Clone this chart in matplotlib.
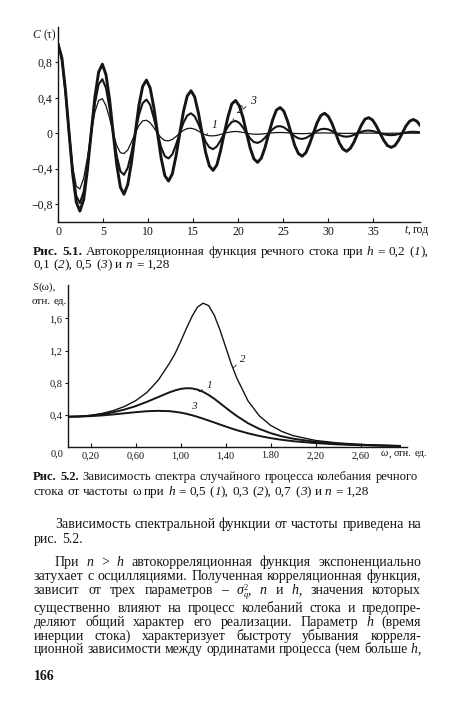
import re
import matplotlib
matplotlib.use("Agg")
import matplotlib.pyplot as plt

plt.rcParams["font.family"] = ["Liberation Serif", "DejaVu Serif"]

W, H = 450, 708
ink = "#151515"

# ---------------- Рис. 5.1 : автокорреляционная функция ----------------
t_top = [0, 0.4, 0.8, 1.2, 1.6, 2.0,
         2.4, 2.82, 3.23, 3.65, 4.07, 4.48,
         4.9, 5.3, 5.7, 6.1, 6.5, 6.9,
         7.3, 7.72, 8.13, 8.55, 8.97, 9.38,
         9.8, 10.21, 10.62, 11.03, 11.43, 11.84,
         12.25, 12.67, 13.08, 13.5, 13.92, 14.33,
         14.75, 15.16, 15.57, 15.98, 16.38, 16.79,
         17.2, 17.62, 18.03, 18.45, 18.87, 19.28,
         19.7, 20.11, 20.52, 20.93, 21.33, 21.74,
         22.15, 22.57, 22.98, 23.4, 23.82, 24.23,
         24.65, 25.06, 25.47, 25.88, 26.28, 26.69,
         27.1, 27.52, 27.93, 28.35, 28.77, 29.18,
         29.6, 30.01, 30.42, 30.83, 31.23, 31.64,
         32.05, 32.46, 32.87, 33.28, 33.68, 34.09,
         34.5, 34.92, 35.33, 35.75, 36.17, 36.58,
         37.0, 37.41, 37.82, 38.23, 38.63, 39.04,
         39.45, 39.85, 40.2]
c1 = [1.00, 0.81, 0.44, 0.0, -0.38, -0.60,
      -0.63, -0.51, -0.28, 0.0, 0.24, 0.37,
      0.39, 0.31, 0.17, 0.0, -0.14, -0.22,
      -0.23, -0.19, -0.10, 0.0, 0.087, 0.14,
      0.146, 0.118, 0.063, 0.0, -0.053, -0.083,
      -0.086, -0.07, -0.038, 0.0, 0.033, 0.053,
      0.056, 0.045, 0.024, 0.0, -0.02, -0.029,
      -0.03, -0.025, -0.014, 0.0, 0.009, 0.016,
      0.02, 0.016, 0.009, 0.0, -0.007, -0.011,
      -0.012, -0.01, -0.005, 0.0, 0.004, 0.007,
      0.008, 0.007, 0.004, 0.0, -0.003, -0.004,
      -0.005, -0.004, -0.002, 0.0, 0.002, 0.003,
      0.003, 0.002, 0.001, 0.0, -0.001, -0.002,
      -0.002, -0.002, -0.001, 0.0, 0.001, 0.001,
      0.001, 0.001, 0.0, 0.0, 0.0, -0.001,
      -0.001, 0.0, 0.0, 0.0, 0.0, 0.0,
      0.0, 0.0, 0.0]
c2 = [1.00, 0.84, 0.47, 0.0, -0.43, -0.71,
      -0.79, -0.66, -0.37, 0.0, 0.34, 0.55,
      0.61, 0.51, 0.28, 0.0, -0.26, -0.43,
      -0.47, -0.39, -0.22, 0.0, 0.21, 0.34,
      0.38, 0.32, 0.17, 0.0, -0.16, -0.26,
      -0.285, -0.24, -0.13, 0.0, 0.12, 0.20,
      0.225, 0.19, 0.105, 0.0, -0.10, -0.16,
      -0.18, -0.15, -0.083, 0.0, 0.077, 0.127,
      0.14, 0.117, 0.065, 0.0, -0.06, -0.10,
      -0.11, -0.09, -0.05, 0.0, 0.045, 0.074,
      0.08, 0.067, 0.037, 0.0, -0.035, -0.058,
      -0.065, -0.054, -0.03, 0.0, 0.027, 0.045,
      0.05, 0.043, 0.024, 0.0, -0.021, -0.035,
      -0.04, -0.034, -0.019, 0.0, 0.016, 0.027,
      0.03, 0.025, 0.014, 0.0, -0.012, -0.02,
      -0.022, -0.019, -0.01, 0.0, 0.008, 0.014,
      0.016, 0.014, 0.01]
c3 = [1.00, 0.85, 0.48, 0.0, -0.46, -0.78,
      -0.88, -0.75, -0.42, 0.0, 0.41, 0.69,
      0.78, 0.66, 0.38, 0.0, -0.36, -0.61,
      -0.69, -0.58, -0.33, 0.0, 0.32, 0.53,
      0.60, 0.51, 0.29, 0.0, -0.28, -0.48,
      -0.54, -0.46, -0.26, 0.0, 0.25, 0.42,
      0.48, 0.41, 0.23, 0.0, -0.22, -0.37,
      -0.42, -0.36, -0.20, 0.0, 0.19, 0.33,
      0.37, 0.31, 0.18, 0.0, -0.17, -0.29,
      -0.33, -0.28, -0.16, 0.0, 0.15, 0.26,
      0.29, 0.25, 0.14, 0.0, -0.14, -0.23,
      -0.26, -0.22, -0.12, 0.0, 0.12, 0.20,
      0.225, 0.19, 0.11, 0.0, -0.11, -0.18,
      -0.205, -0.17, -0.10, 0.0, 0.09, 0.16,
      0.175, 0.15, 0.085, 0.0, -0.08, -0.14,
      -0.16, -0.14, -0.08, 0.0, 0.08, 0.135,
      0.155, 0.135, 0.09]
top_xticks = [0, 5, 10, 15, 20, 25, 30, 35]
top_yticks = [-0.8, -0.4, 0, 0.4, 0.8]
top_ylabels = ["−0,8", "−0,4", "0", "0,4", "0,8"]

# ---------------- Рис. 5.2 : спектральная функция ----------------
w = [0, 0.1, 0.2, 0.3, 0.4, 0.5, 0.6, 0.7, 0.8, 0.9,
     0.95, 1.0, 1.05, 1.1, 1.15, 1.2, 1.25, 1.3, 1.35, 1.4, 1.45, 1.5,
     1.6, 1.7, 1.8, 1.9, 2.0, 2.2, 2.4, 2.6, 2.8, 2.95]
s1 = [0.38, 0.383, 0.393, 0.41, 0.435, 0.468, 0.511, 0.564, 0.623, 0.682,
      0.706, 0.725, 0.734, 0.732, 0.717, 0.689, 0.650, 0.603, 0.549, 0.494, 0.440, 0.389,
      0.299, 0.229, 0.176, 0.136, 0.107, 0.068, 0.045, 0.031, 0.022, 0.017]
s2 = [0.38, 0.384, 0.397, 0.42, 0.455, 0.506, 0.578, 0.68, 0.83, 1.04,
      1.16, 1.31, 1.47, 1.62, 1.74, 1.79, 1.76, 1.64, 1.46, 1.25, 1.04, 0.86,
      0.576, 0.391, 0.273, 0.197, 0.145, 0.085, 0.054, 0.036, 0.025, 0.02]
s3 = [0.38, 0.382, 0.387, 0.396, 0.408, 0.422, 0.436, 0.448, 0.453, 0.449,
      0.441, 0.431, 0.417, 0.399, 0.379, 0.356, 0.332, 0.308, 0.283, 0.259, 0.235, 0.213,
      0.174, 0.141, 0.114, 0.093, 0.076, 0.052, 0.036, 0.026, 0.019, 0.015]
bot_xticks = [0.2, 0.6, 1.0, 1.4, 1.8, 2.2, 2.6]
bot_xlabels = ["0,20", "0,60", "1,00", "1,40", "1.80", "2,20", "2,60"]
bot_yticks = [0.4, 0.8, 1.2, 1.6]
bot_ylabels = ["0,4", "0,8", "1,2", "1,6"]

fig = plt.figure(figsize=(W / 100, H / 100), dpi=100)
fig.patch.set_facecolor("white")


def px_axes(x0, y0, x1, y1):
    return fig.add_axes([x0 / W, 1 - y1 / H, (x1 - x0) / W, (y1 - y0) / H])


def style_axes(ax, size):
    for s in ("top", "right"):
        ax.spines[s].set_visible(False)
    for s in ("left", "bottom"):
        ax.spines[s].set_linewidth(1.0)
        ax.spines[s].set_color(ink)
    ax.tick_params(axis="x", direction="in", length=3, width=0.8, pad=3,
                   labelsize=size, colors=ink)
    ax.tick_params(axis="y", direction="out", length=2, width=0.8, pad=2,
                   labelsize=size, colors=ink)


# top chart
ax1 = px_axes(58.3, 27, 420, 221.7)
ax1.plot(t_top, c1, color=ink, lw=0.9)
ax1.plot(t_top, c2, color=ink, lw=1.5)
ax1.plot(t_top, c3, color=ink, lw=2.1)
ax1.set_xlim(0, 40.2)
ax1.set_ylim(-1.0, 1.2)
ax1.set_xticks(top_xticks)
ax1.set_xticklabels([str(v) for v in top_xticks])
ax1.set_yticks(top_yticks)
ax1.set_yticklabels(top_ylabels)
style_axes(ax1, 8.5)
lead = dict(arrowstyle="-", lw=0.6, color=ink, shrinkA=1, shrinkB=0)
ax1.annotate("3", xy=(20.5, 0.27), xytext=(21.3, 0.36), fontsize=8.5, style="italic",
             va="center", ha="left", color=ink, arrowprops=lead)
ax1.annotate("2", xy=(19.4, 0.15), xytext=(19.9, 0.26), fontsize=8.5, style="italic",
             va="center", ha="left", color=ink, arrowprops=lead)
ax1.annotate("1", xy=(16.5, -0.015), xytext=(17.0, 0.09), fontsize=8.5, style="italic",
             va="center", ha="left", color=ink, arrowprops=lead)

# bottom chart
ax2 = px_axes(68, 285, 406.7, 447.3)
ax2.plot(w, s1, color=ink, lw=1.4)
ax2.plot(w, s2, color=ink, lw=1.0)
ax2.plot(w, s3, color=ink, lw=1.4)
ax2.set_xlim(0, 3.01)
ax2.set_ylim(0, 2.016)
ax2.set_xticks(bot_xticks)
ax2.set_xticklabels(bot_xlabels)
ax2.set_yticks(bot_yticks)
ax2.set_yticklabels(bot_ylabels)
style_axes(ax2, 7.5)
ax2.annotate("2", xy=(1.47, 0.99), xytext=(1.53, 1.09), fontsize=8, style="italic",
             va="center", ha="left", color=ink, arrowprops=lead)
ax2.annotate("1", xy=(1.165, 0.69), xytext=(1.23, 0.77), fontsize=8, style="italic",
             va="center", ha="left", color=ink, arrowprops=lead)
ax2.annotate("3", xy=(1.055, 0.42), xytext=(1.09, 0.51), fontsize=8, style="italic",
             va="center", ha="left", color=ink, arrowprops=lead)

# ---------------- text of the page ----------------
renderer = fig.canvas.get_renderer()


def runs(word):
    out = []
    for p in re.split(r"(_[^_]+_|\*[^*]+\*|\{sq\})", word):
        if not p:
            continue
        if p == "{sq}":
            out.append(("σ", "sq", "normal"))
        elif p[0] == "_" and p[-1] == "_":
            out.append((p[1:-1], "italic", "normal"))
        elif p[0] == "*" and p[-1] == "*":
            out.append((p[1:-1], "normal", "bold"))
        else:
            out.append((p, "normal", "normal"))
    return out


def build(line, base, size):
    words = []
    for wd in line.split():
        arts = []
        for s, st, wt in runs(wd):
            if st == "sq":
                # sigma with superscript 2 and subscript q
                t = fig.text(0, base, s, fontsize=size, style="italic",
                             va="baseline", color=ink)
                tw = t.get_window_extent(renderer).width
                up = fig.text(0, base + 4.5 / H, "2", fontsize=size * 0.6,
                              va="baseline", color=ink)
                dn = fig.text(0, base - 2.5 / H, "q", fontsize=size * 0.6,
                              style="italic", va="baseline", color=ink)
                sw = max(up.get_window_extent(renderer).width,
                         dn.get_window_extent(renderer).width)
                arts.append((t, tw, [up, dn]))
                arts.append((None, sw, None))
            else:
                t = fig.text(0, base, s, fontsize=size, style=st, weight=wt,
                             va="baseline", ha="left", color=ink)
                arts.append((t, t.get_window_extent(renderer).width, None))
        words.append(arts)
    return words


def put(line, x0, yc, size, x1=None, ha="left"):
    base = 1 - (yc + size * 0.33) / H
    while True:
        words = build(line, base, size)
        widths = [sum(a[1] for a in arts) for arts in words]
        if x1 is not None and len(words) > 1:
            gap = (x1 - x0 - sum(widths)) / (len(words) - 1)
            if gap < size * 1.39 * 0.2:
                for arts in words:
                    for t, tw, extra in arts:
                        if t is not None:
                            t.remove()
                        for e in extra or []:
                            e.remove()
                size -= 0.2
                continue
        else:
            gap = size * 1.39 * 0.27
        break
    total = sum(widths) + gap * (len(words) - 1)
    x = x0 - total if ha == "right" else x0
    for arts, wd in zip(words, widths):
        xx = x
        pend = None
        for t, tw, extra in arts:
            if t is not None:
                t.set_x(xx / W)
            if pend:
                for e in pend:
                    e.set_x(xx / W)
            pend = extra
            xx += tw
        x += wd + gap


# axis captions
put("_C_ (τ)", 56, 35, 8.5, ha="right")
put("_t_, год", 404, 230, 8.5)
put("_S_(ω),", 33, 287, 8)
put("отн. ед.", 67, 301, 8, ha="right")
put("0,0", 51, 454, 7.5)
put("_ω_, отн. ед.", 381, 454, 7.5)

# figure captions
put("*Рис.* *5.1.* Автокорреляционная функция речного стока при _h_ = 0,2 (_1_),",
    33, 252, 9.5, x1=428)
put("0,1 (_2_), 0,5 (_3_) и _n_ = 1,28", 33, 265, 9.5)
put("*Рис.* *5.2.* Зависимость спектра случайного процесса колебания речного",
    33, 476.7, 9.5, x1=418)
put("стока от частоты ω при _h_ = 0,5 (_1_), 0,3 (_2_), 0,7 (_3_) и _n_ = 1,28",
    33, 491.7, 9.5)

# body text
body = [
    ("Зависимость спектральной функции от частоты приведена на", 55, 525, True),
    ("рис. 5.2.", 34, 540, False),
    ("При _n_ > _h_ автокорреляционная функция экспоненциально", 55, 562.7, True),
    ("затухает с осцилляциями. Полученная корреляционная функция,", 34, 576.7, True),
    ("зависит от трех параметров – {sq}, _n_ и _h_, значения которых", 34, 591, True),
    ("существенно влияют на процесс колебаний стока и предопре-", 34, 608.3, True),
    ("деляют общий характер его реализации. Параметр _h_ (время", 34, 622.3, True),
    ("инерции стока) характеризует быстроту убывания корреля-", 34, 636.7, True),
    ("ционной зависимости между ординатами процесса (чем больше _h_,", 34, 650, True),
]
for txt, x0, yc, just in body:
    put(txt, x0, yc, 10, x1=421 if just else None)
put("*166*", 34, 677, 10)

fig.savefig("out.png", dpi=100, facecolor="white")
